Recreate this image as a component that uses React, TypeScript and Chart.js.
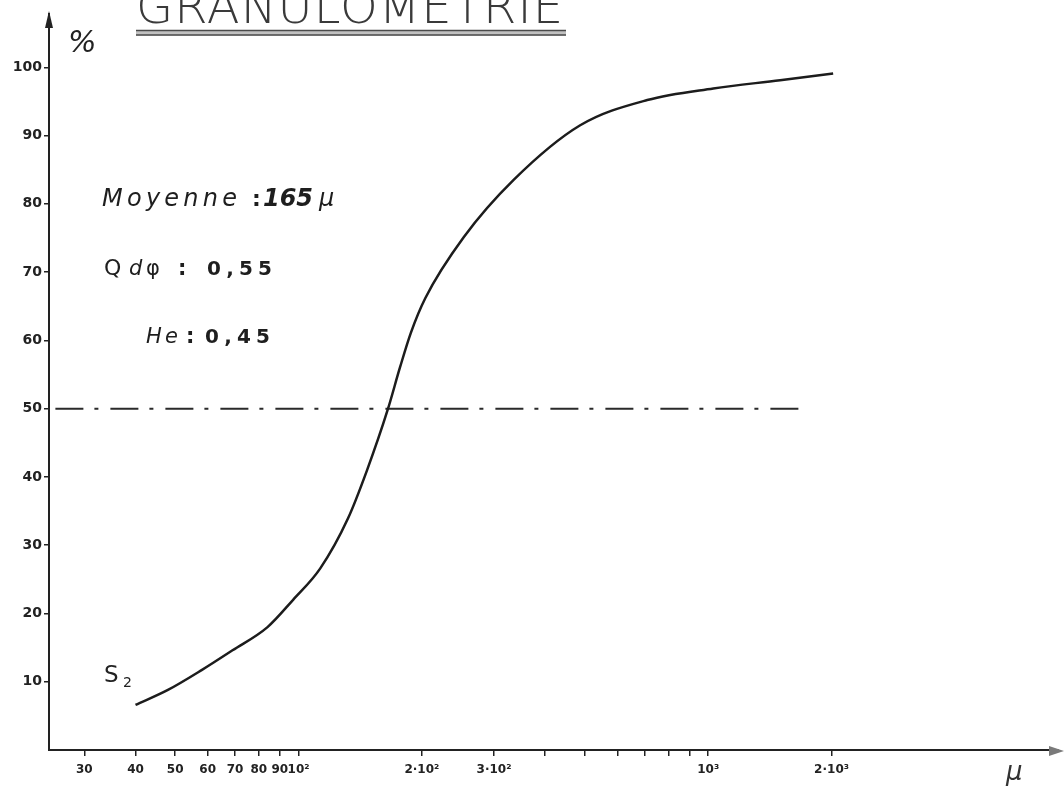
import React, { useEffect, useRef } from "react";
import { Chart, registerables } from "chart.js";

Chart.register(...registerables);

// Grain size (µm) and cumulative percentage of sample S2
const sizeMicrons = [40, 48, 58, 69, 84, 97, 113, 132, 147, 165, 177, 188, 204, 253, 335, 487, 710, 1029, 1498, 2018];
const cumulativePercent = [6.6, 8.8, 11.7, 14.6, 18.0, 22.0, 26.6, 33.9, 41.0, 49.8, 56.1, 61.1, 66.2, 75.1, 83.5, 91.5, 95.2, 96.9, 98.1, 99.1];

// 50 % reference line (dash-dot)
const medianLineX = [25.5, 1680];
const medianLineY = [50, 50];

// Axis ticks
const xTickValues = [30, 40, 50, 60, 70, 80, 90, 100, 200, 300, 400, 500, 600, 700, 800, 900, 1000, 2000];
const xTickLabels = ["30", "40", "50", "60", "70", "80", "90", "10²", "2·10²", "3·10²", "", "", "", "", "", "", "10³", "2·10³"];
const yTickValues = [10, 20, 30, 40, 50, 60, 70, 80, 90, 100];
const yTickLabels = ["10", "20", "30", "40", "50", "60", "70", "80", "90", "100"];

// Texts
const titleText = "GRANULOMETRIE";
const yUnitText = "%";
const xUnitText = "µ";
const sampleText = "S";
const sampleSub = "2";
const meanParts = ["Moyenne", ":", "165", "µ"];
const qdParts = ["Q", "d", "φ", ":", "0,55"];
const heParts = ["He", ":", "0,45"];

const X_MIN = 24.6;
const X_MAX = 7141;
const Y_MIN = 0;
const Y_MAX = 107.8;

function drawFitted(
  ctx: CanvasRenderingContext2D,
  text: string,
  x: number,
  y: number,
  width: number | null,
  font: string,
  color: string
) {
  ctx.save();
  ctx.font = font;
  ctx.fillStyle = color;
  ctx.textAlign = "left";
  ctx.textBaseline = "alphabetic";
  (ctx as any).letterSpacing = "0px";
  if (width !== null) {
    const w = ctx.measureText(text).width;
    const n = Array.from(text).length;
    if (n > 1) {
      const ls = (width - w) / (n - 1);
      (ctx as any).letterSpacing = ls + "px";
    }
  }
  ctx.fillText(text, x, y);
  ctx.restore();
}

const FONT = '"DejaVu Sans", sans-serif';

const decorPlugin = {
  id: "decor",
  afterDraw(chart: any) {
    const ctx: CanvasRenderingContext2D = chart.ctx;
    const area = chart.chartArea;
    ctx.save();

    // Title
    drawFitted(ctx, titleText, 136, 23, 427, `200 48px ${FONT}`, "#3a3a3a");
    // Double underline
    ctx.fillStyle = "#c0c0c0";
    ctx.fillRect(136, 30, 430, 5.5);
    ctx.strokeStyle = "#4a4a4a";
    ctx.lineWidth = 1.4;
    ctx.beginPath();
    ctx.moveTo(136, 30.5);
    ctx.lineTo(566, 30.5);
    ctx.moveTo(136, 35);
    ctx.lineTo(566, 35);
    ctx.stroke();

    // Y axis arrow
    const ax = area.left;
    ctx.strokeStyle = "#222";
    ctx.lineWidth = 2;
    ctx.beginPath();
    ctx.moveTo(ax, area.top);
    ctx.lineTo(ax, 16);
    ctx.stroke();
    ctx.fillStyle = "#222";
    ctx.beginPath();
    ctx.moveTo(ax, 11);
    ctx.lineTo(ax - 4, 28);
    ctx.lineTo(ax + 4, 28);
    ctx.closePath();
    ctx.fill();

    // X axis arrow
    const ay = area.bottom;
    ctx.fillStyle = "#7a7a7a";
    ctx.beginPath();
    ctx.moveTo(1064, ay + 1);
    ctx.lineTo(1049, ay - 4);
    ctx.lineTo(1049, ay + 6);
    ctx.closePath();
    ctx.fill();

    // Units
    drawFitted(ctx, yUnitText, 68, 52, null, `italic 30px ${FONT}`, "#222");
    drawFitted(ctx, xUnitText, 1006, 780, null, `italic 26px ${FONT}`, "#333");

    // Statistics
    const c = "#1e1e1e";
    drawFitted(ctx, meanParts[0], 102, 206, 135, `italic 24px ${FONT}`, c);
    drawFitted(ctx, meanParts[1], 252, 206, null, `bold 22px ${FONT}`, c);
    drawFitted(ctx, meanParts[2], 263, 206, 50, `italic bold 24px ${FONT}`, c);
    drawFitted(ctx, meanParts[3], 319, 206, null, `italic 24px ${FONT}`, c);

    drawFitted(ctx, qdParts[0], 104, 275, null, `22px ${FONT}`, c);
    drawFitted(ctx, qdParts[1], 129, 275, null, `italic 21px ${FONT}`, c);
    drawFitted(ctx, qdParts[2], 146, 275, null, `21px ${FONT}`, c);
    drawFitted(ctx, qdParts[3], 178, 275, null, `bold 21px ${FONT}`, c);
    drawFitted(ctx, qdParts[4], 207, 275, 65, `bold 20px ${FONT}`, c);

    drawFitted(ctx, heParts[0], 146, 343, 32, `italic 21px ${FONT}`, c);
    drawFitted(ctx, heParts[1], 186, 343, null, `bold 21px ${FONT}`, c);
    drawFitted(ctx, heParts[2], 205, 343, 65, `bold 20px ${FONT}`, c);

    // Sample label
    drawFitted(ctx, sampleText, 104, 682, null, `23px ${FONT}`, "#222");
    drawFitted(ctx, sampleSub, 123, 687, null, `14px ${FONT}`, "#222");

    ctx.restore();
  },
};

export default function App() {
  const canvasRef = useRef<HTMLCanvasElement | null>(null);

  useEffect(() => {
    document.body.style.margin = "0";
    document.body.style.background = "#ffffff";
    const canvas = canvasRef.current;
    if (!canvas) return;

    const curve = sizeMicrons.map((x, i) => ({ x, y: cumulativePercent[i] }));
    const median = medianLineX.map((x, i) => ({ x, y: medianLineY[i] }));

    const tickFontY = { family: FONT, size: 14, weight: "bold" as const };
    const tickFontX = { family: FONT, size: 12, weight: "bold" as const };

    const chart = new Chart(canvas, {
      type: "line",
      data: {
        datasets: [
          {
            label: "S2",
            data: curve,
            borderColor: "#1c1c1c",
            borderWidth: 2.5,
            pointRadius: 0,
            tension: 0.4,
            cubicInterpolationMode: "monotone",
            fill: false,
          },
          {
            label: "50 %",
            data: median,
            borderColor: "#2a2a2a",
            borderWidth: 2,
            borderDash: [28, 11, 4, 12],
            pointRadius: 0,
            fill: false,
          },
        ],
      },
      options: {
        animation: false,
        responsive: true,
        maintainAspectRatio: false,
        layout: { padding: { top: 14, right: 6, left: 0, bottom: 0 } },
        plugins: {
          legend: { display: false },
          tooltip: { enabled: false },
          title: { display: false },
        },
        scales: {
          x: {
            type: "logarithmic",
            min: X_MIN,
            max: X_MAX,
            afterBuildTicks: (s: any) => {
              s.ticks = xTickValues.map((v) => ({ value: v }));
            },
            afterFit: (s: any) => {
              s.height = 43;
            },
            ticks: {
              autoSkip: false,
              maxRotation: 0,
              minRotation: 0,
              padding: 7,
              color: "#222",
              font: tickFontX,
              callback: (_v: any, i: number) => xTickLabels[i],
            },
            grid: {
              drawOnChartArea: false,
              drawTicks: true,
              tickLength: 6,
              color: "#222",
              lineWidth: 1.5,
            },
            border: { display: true, color: "#222", width: 2 },
          },
          y: {
            type: "linear",
            min: Y_MIN,
            max: Y_MAX,
            afterBuildTicks: (s: any) => {
              s.ticks = yTickValues.map((v) => ({ value: v }));
            },
            afterFit: (s: any) => {
              s.width = 49;
            },
            ticks: {
              padding: 2,
              color: "#222",
              font: tickFontY,
              callback: (_v: any, i: number) => yTickLabels[i],
            },
            grid: {
              drawOnChartArea: false,
              drawTicks: true,
              tickLength: 5,
              color: "#222",
              lineWidth: 1.5,
            },
            border: { display: true, color: "#222", width: 2 },
          },
        },
      },
      plugins: [decorPlugin],
    });

    return () => chart.destroy();
  }, []);

  return (
    <div style={{ position: "relative", width: "1064px", height: "793px", overflow: "hidden", background: "#fff" }}>
      <canvas ref={canvasRef} />
    </div>
  );
}
